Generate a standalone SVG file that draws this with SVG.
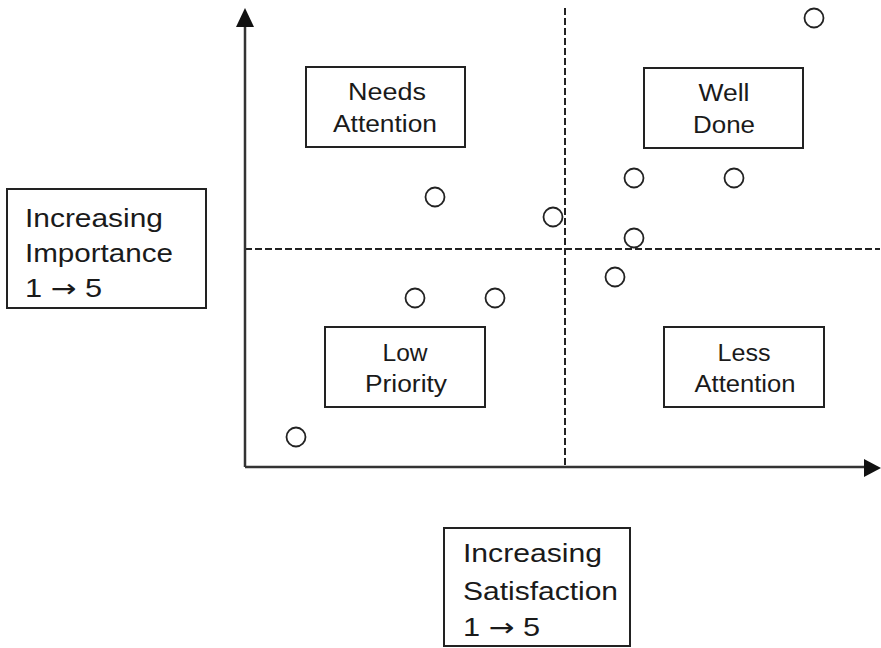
<svg xmlns="http://www.w3.org/2000/svg" width="881" height="648" viewBox="0 0 881 648">
<style>
.box{fill:#fff;stroke:#222;stroke-width:2}
.lbl{font-family:"Liberation Sans",Arial,sans-serif;font-size:23px;fill:#1a1a1a;text-anchor:middle}
.ax{font-family:"Liberation Sans",Arial,sans-serif;font-size:25px;fill:#1a1a1a}
.arr{font-family:"DejaVu Sans",sans-serif;font-size:25px}
.axis{stroke:#333;stroke-width:2.5;fill:none}
.dash{stroke:#222;stroke-width:2;stroke-dasharray:7 3;fill:none}
.pt{fill:#fff;stroke:#222;stroke-width:1.8}
</style>
<rect width="881" height="648" fill="#fff"/>
<g id="connectors">
<line class="dash" x1="565" y1="8" x2="565" y2="466"/>
<line class="dash" x1="245" y1="249" x2="880" y2="249"/>
<line class="axis" x1="245" y1="467" x2="245" y2="26"/>
<path d="M245,8 L254,27 L236,27 Z" fill="#111"/>
<line class="axis" x1="245" y1="467" x2="864" y2="467"/>
<path d="M881,468 L864,459 L864,477 Z" fill="#111"/>
</g>
<g id="needs-attention">
<rect class="box" x="306" y="67" width="159" height="80"/>
<text class="lbl" x="387" y="100" textLength="78" lengthAdjust="spacingAndGlyphs">Needs</text>
<text class="lbl" x="385" y="132" textLength="104" lengthAdjust="spacingAndGlyphs">Attention</text>
</g>
<g id="well-done">
<rect class="box" x="644" y="68" width="159" height="80"/>
<text class="lbl" x="724" y="101" textLength="51" lengthAdjust="spacingAndGlyphs">Well</text>
<text class="lbl" x="724" y="133" textLength="62" lengthAdjust="spacingAndGlyphs">Done</text>
</g>
<g id="low-priority">
<rect class="box" x="325" y="327" width="160" height="80"/>
<text class="lbl" x="405" y="361" textLength="45" lengthAdjust="spacingAndGlyphs">Low</text>
<text class="lbl" x="406" y="392" textLength="82" lengthAdjust="spacingAndGlyphs">Priority</text>
</g>
<g id="less-attention">
<rect class="box" x="664" y="327" width="160" height="80"/>
<text class="lbl" x="744" y="361" textLength="53" lengthAdjust="spacingAndGlyphs">Less</text>
<text class="lbl" x="745" y="392" textLength="101" lengthAdjust="spacingAndGlyphs">Attention</text>
</g>
<g id="importance-label">
<rect class="box" x="7" y="189" width="199" height="119"/>
<text class="ax" x="25" y="227" textLength="138" lengthAdjust="spacingAndGlyphs">Increasing</text>
<text class="ax" x="25" y="262" textLength="148" lengthAdjust="spacingAndGlyphs">Importance</text>
<text class="ax" x="25" y="297" textLength="77" lengthAdjust="spacingAndGlyphs">1 <tspan class="arr">→</tspan> 5</text>
</g>
<g id="satisfaction-label">
<rect class="box" x="444" y="528" width="186" height="118"/>
<text class="ax" x="463" y="562" textLength="139" lengthAdjust="spacingAndGlyphs">Increasing</text>
<text class="ax" x="463" y="600" textLength="155" lengthAdjust="spacingAndGlyphs">Satisfaction</text>
<text class="ax" x="463" y="636" textLength="77" lengthAdjust="spacingAndGlyphs">1 <tspan class="arr">→</tspan> 5</text>
</g>
<g id="points">
<circle class="pt" cx="814" cy="18" r="9.5"/>
<circle class="pt" cx="435" cy="197" r="9.5"/>
<circle class="pt" cx="553" cy="217" r="9.5"/>
<circle class="pt" cx="634" cy="178" r="9.5"/>
<circle class="pt" cx="734" cy="178" r="9.5"/>
<circle class="pt" cx="634" cy="238" r="9.5"/>
<circle class="pt" cx="615" cy="277" r="9.5"/>
<circle class="pt" cx="415" cy="298" r="9.5"/>
<circle class="pt" cx="495" cy="298" r="9.5"/>
<circle class="pt" cx="296" cy="437" r="9.5"/>
</g>
</svg>
